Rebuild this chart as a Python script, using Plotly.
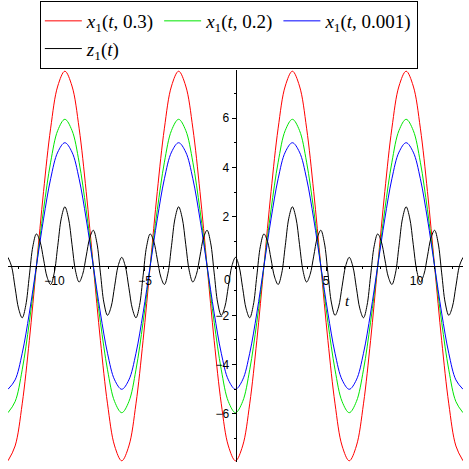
import plotly.graph_objects as go

# sample points t = k*pi/8, k = -32..32
T = [-12.566, -12.174, -11.781, -11.388, -10.996, -10.603, -10.210, -9.817,
     -9.425, -9.032, -8.639, -8.247, -7.854, -7.461, -7.069, -6.676,
     -6.283, -5.890, -5.498, -5.105, -4.712, -4.320, -3.927, -3.534,
     -3.142, -2.749, -2.356, -1.963, -1.571, -1.178, -0.785, -0.393,
     0.0,
     0.393, 0.785, 1.178, 1.571, 1.963, 2.356, 2.749, 3.142,
     3.534, 3.927, 4.320, 4.712, 5.105, 5.498, 5.890, 6.283,
     6.676, 7.069, 7.461, 7.854, 8.247, 8.639, 9.032, 9.425,
     9.817, 10.210, 10.603, 10.996, 11.388, 11.781, 12.174, 12.566]

# finer sample points for z1, t = k*pi/16, k = -64..64
TZ = [-12.566, -12.370, -12.174, -11.977, -11.781, -11.585, -11.388, -11.192,
      -10.996, -10.799, -10.603, -10.407, -10.210, -10.014, -9.817, -9.621,
      -9.425, -9.228, -9.032, -8.836, -8.639, -8.443, -8.247, -8.050,
      -7.854, -7.658, -7.461, -7.265, -7.069, -6.872, -6.676, -6.480,
      -6.283, -6.087, -5.890, -5.694, -5.498, -5.301, -5.105, -4.909,
      -4.712, -4.516, -4.320, -4.123, -3.927, -3.731, -3.534, -3.338,
      -3.142, -2.945, -2.749, -2.553, -2.356, -2.160, -1.963, -1.767,
      -1.571, -1.374, -1.178, -0.982, -0.785, -0.589, -0.393, -0.196,
      0.0,
      0.196, 0.393, 0.589, 0.785, 0.982, 1.178, 1.374, 1.571,
      1.767, 1.963, 2.160, 2.356, 2.553, 2.749, 2.945, 3.142,
      3.338, 3.534, 3.731, 3.927, 4.123, 4.320, 4.516, 4.712,
      4.909, 5.105, 5.301, 5.498, 5.694, 5.890, 6.087, 6.283,
      6.480, 6.676, 6.872, 7.069, 7.265, 7.461, 7.658, 7.854,
      8.050, 8.247, 8.443, 8.639, 8.836, 9.032, 9.228, 9.425,
      9.621, 9.817, 10.014, 10.210, 10.407, 10.603, 10.799, 10.996,
      11.192, 11.388, 11.585, 11.781, 11.977, 12.174, 12.370, 12.566]

X1_03 = [-7.9, -7.30, -5.59, -3.02, 0.0, 3.02, 5.59, 7.30, 7.9, 7.30, 5.59, 3.02, 0.0, -3.02, -5.59, -7.30,
         -7.9, -7.30, -5.59, -3.02, 0.0, 3.02, 5.59, 7.30, 7.9, 7.30, 5.59, 3.02, 0.0, -3.02, -5.59, -7.30,
         -7.9, -7.30, -5.59, -3.02, 0.0, 3.02, 5.59, 7.30, 7.9, 7.30, 5.59, 3.02, 0.0, -3.02, -5.59, -7.30,
         -7.9, -7.30, -5.59, -3.02, 0.0, 3.02, 5.59, 7.30, 7.9, 7.30, 5.59, 3.02, 0.0, -3.02, -5.59, -7.30,
         -7.9]
X1_02 = [-5.95, -5.50, -4.21, -2.28, 0.0, 2.28, 4.21, 5.50, 5.95, 5.50, 4.21, 2.28, 0.0, -2.28, -4.21, -5.50,
         -5.95, -5.50, -4.21, -2.28, 0.0, 2.28, 4.21, 5.50, 5.95, 5.50, 4.21, 2.28, 0.0, -2.28, -4.21, -5.50,
         -5.95, -5.50, -4.21, -2.28, 0.0, 2.28, 4.21, 5.50, 5.95, 5.50, 4.21, 2.28, 0.0, -2.28, -4.21, -5.50,
         -5.95, -5.50, -4.21, -2.28, 0.0, 2.28, 4.21, 5.50, 5.95, 5.50, 4.21, 2.28, 0.0, -2.28, -4.21, -5.50,
         -5.95]
X1_0001 = [-5.0, -4.62, -3.54, -1.91, 0.0, 1.91, 3.54, 4.62, 5.0, 4.62, 3.54, 1.91, 0.0, -1.91, -3.54, -4.62,
           -5.0, -4.62, -3.54, -1.91, 0.0, 1.91, 3.54, 4.62, 5.0, 4.62, 3.54, 1.91, 0.0, -1.91, -3.54, -4.62,
           -5.0, -4.62, -3.54, -1.91, 0.0, 1.91, 3.54, 4.62, 5.0, 4.62, 3.54, 1.91, 0.0, -1.91, -3.54, -4.62,
           -5.0, -4.62, -3.54, -1.91, 0.0, 1.91, 3.54, 4.62, 5.0, 4.62, 3.54, 1.91, 0.0, -1.91, -3.54, -4.62,
           -5.0]
Z1 = [0.35, -0.01, -0.88, -1.74, -2.1, -1.60, -0.40, 0.80, 1.3, 1.00, 0.28, -0.45, -0.75, -0.29, 0.82, 1.94,
      2.4, 1.95, 0.88, -0.20, -0.65, -0.34, 0.40, 1.14, 1.45, 0.94, -0.28, -1.50, -2.0, -1.66, -0.82, 0.01,
      0.35, -0.01, -0.88, -1.74, -2.1, -1.60, -0.40, 0.80, 1.3, 1.00, 0.28, -0.45, -0.75, -0.29, 0.82, 1.94,
      2.4, 1.95, 0.88, -0.20, -0.65, -0.34, 0.40, 1.14, 1.45, 0.94, -0.28, -1.50, -2.0, -1.66, -0.82, 0.01,
      0.35, -0.01, -0.88, -1.74, -2.1, -1.60, -0.40, 0.80, 1.3, 1.00, 0.28, -0.45, -0.75, -0.29, 0.82, 1.94,
      2.4, 1.95, 0.88, -0.20, -0.65, -0.34, 0.40, 1.14, 1.45, 0.94, -0.28, -1.50, -2.0, -1.66, -0.82, 0.01,
      0.35, -0.01, -0.88, -1.74, -2.1, -1.60, -0.40, 0.80, 1.3, 1.00, 0.28, -0.45, -0.75, -0.29, 0.82, 1.94,
      2.4, 1.95, 0.88, -0.20, -0.65, -0.34, 0.40, 1.14, 1.45, 0.94, -0.28, -1.50, -2.0, -1.66, -0.82, 0.01,
      0.35]

# (legend label, x, y, colour, legend column)
SERIES = [
    ("<i>x</i><sub>1</sub>(<i>t</i>, 0.3)", T, X1_03, "#ff0000", "c1"),
    ("<i>x</i><sub>1</sub>(<i>t</i>, 0.2)", T, X1_02, "#00e600", "c2"),
    ("<i>x</i><sub>1</sub>(<i>t</i>, 0.001)", T, X1_0001, "#0000ff", "c3"),
    ("<i>z</i><sub>1</sub>(<i>t</i>)", TZ, Z1, "#000000", "c1"),
]

X_TICKS = [-10, -5, 5, 10]
Y_TICKS = [-6, -4, -2, 2, 4, 6]
X_RANGE = [-12.566, 12.566]
Y_RANGE = [-7.95, 7.95]

SERIF = "Liberation Serif, Times New Roman, serif"
SANS = "Liberation Sans, Arial, sans-serif"

fig = go.Figure()
for name, xs, ys, color, group in SERIES:
    fig.add_trace(go.Scatter(
        x=xs, y=ys, mode="lines", name=name, legendgroup=group,
        line=dict(color=color, width=1, shape="spline", smoothing=1.0)))

fig.add_annotation(x=6.2, y=-1.4, text="<i>t</i>", showarrow=False,
                   font=dict(family=SERIF, size=15, color="black"))
fig.add_annotation(x=-0.45, y=-0.55, text="0", showarrow=False,
                   font=dict(family=SANS, size=12, color="black"))

fig.update_xaxes(
    range=X_RANGE, anchor="free", position=0.5, showgrid=False, zeroline=False,
    showline=True, linecolor="black", linewidth=1,
    tickvals=X_TICKS, ticks="outside", ticklen=4, tickcolor="black",
    minor=dict(dtick=1, ticks="outside", ticklen=2, tickcolor="black"),
    tickfont=dict(family=SANS, size=12, color="black"),
)
fig.update_yaxes(
    range=Y_RANGE, anchor="free", position=0.5, showgrid=False, zeroline=False,
    showline=True, linecolor="black", linewidth=1,
    tickvals=Y_TICKS, ticks="outside", ticklen=4, tickcolor="black",
    minor=dict(dtick=1, ticks="outside", ticklen=2, tickcolor="black"),
    tickfont=dict(family=SANS, size=12, color="black"),
)

fig.update_layout(
    width=469, height=469,
    margin=dict(l=8, r=6, t=70, b=7, autoexpand=False),
    plot_bgcolor="white", paper_bgcolor="white",
    showlegend=True,
    legend=dict(orientation="h", x=0.07, y=1.176, xanchor="left", yanchor="top",
                bordercolor="black", borderwidth=1, bgcolor="white",
                font=dict(family=SERIF, size=19, color="black"),
                itemwidth=37, traceorder="grouped", tracegroupgap=0),
)

# drop the browser's default body margin so the figure sits at the page corner
fig.write_html("out.html", config={"displayModeBar": False},
               post_script="document.body.style.margin='0';")
